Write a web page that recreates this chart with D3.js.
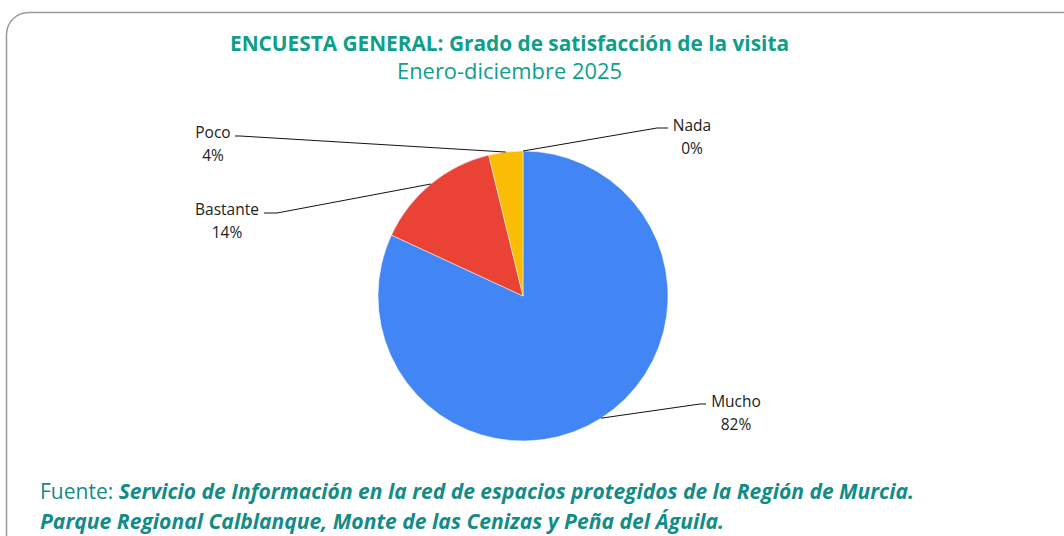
<!DOCTYPE html>
<html>
<head>
<meta charset="utf-8">
<script src="https://cdn.jsdelivr.net/npm/d3@7"></script>
<style>
  body { margin: 0; background: #fff; }
  svg { display: block; }
</style>
</head>
<body>
<svg width="1064" height="536"></svg>
<script>
// data
const categories = ["Mucho", "Bastante", "Poco", "Nada"];
const values = [81.9, 14.3, 3.8, 0];
const pctLabels = ["82%", "14%", "4%", "0%"];
const colors = ["#4285F4", "#EA4335", "#FBBC04", "#34A853"];

// where each label sits (layout only)
const labelPos = {
  Mucho:    { x: 736, y: 407, elbow: [700, 404], stub: 706 },
  Bastante: { x: 227, y: 215, elbow: [277, 213], stub: 264 },
  Poco:     { x: 213, y: 138, elbow: [240, 136], stub: 235 },
  Nada:     { x: 692, y: 131, elbow: [657, 128], stub: 668 }
};

const svg = d3.select("svg");
const teal = "#0E9E8A";
const tealDark = "#138C86";
const font = "'Open Sans', 'Noto Sans', sans-serif";

// card border
svg.append("rect")
  .attr("x", 6.5).attr("y", 12.5)
  .attr("width", 1080).attr("height", 580)
  .attr("rx", 22).attr("ry", 22)
  .attr("fill", "none")
  .attr("stroke", "#9a9a9a")
  .attr("stroke-width", 1.5);

// titles
svg.append("text")
  .attr("x", 509.5).attr("y", 51)
  .attr("text-anchor", "middle")
  .attr("font-family", font)
  .attr("font-weight", "bold")
  .attr("font-size", 21)
  .attr("fill", teal)
  .attr("textLength", 559)
  .attr("lengthAdjust", "spacingAndGlyphs")
  .text("ENCUESTA GENERAL: Grado de satisfacción de la visita");

svg.append("text")
  .attr("x", 509.5).attr("y", 79)
  .attr("text-anchor", "middle")
  .attr("font-family", font)
  .attr("font-size", 21)
  .attr("fill", teal)
  .attr("textLength", 225)
  .attr("lengthAdjust", "spacingAndGlyphs")
  .text("Enero-diciembre 2025");

// pie
const cx = 523, cy = 296, radius = 145;
const pieData = categories.map((c, i) => ({ name: c, value: values[i], pct: pctLabels[i], color: colors[i] }));

const pie = d3.pie().sort(null).value(d => d.value);
const arc = d3.arc().innerRadius(0).outerRadius(radius);
const arcs = pie(pieData);

const g = svg.append("g").attr("transform", `translate(${cx},${cy})`);

g.selectAll("path")
  .data(arcs.filter(d => d.data.value > 0))
  .join("path")
  .attr("d", arc)
  .attr("fill", d => d.data.color)
  .attr("stroke", "#fff")
  .attr("stroke-width", 0.5);

// leader lines
const edgePoint = d => {
  const a = (d.startAngle + d.endAngle) / 2;
  return [cx + radius * Math.sin(a), cy - radius * Math.cos(a)];
};

svg.append("g")
  .attr("fill", "none")
  .attr("stroke", "#111")
  .attr("stroke-width", 1)
  .selectAll("polyline")
  .data(arcs)
  .join("polyline")
  .attr("points", d => {
    const p = labelPos[d.data.name];
    return [edgePoint(d), p.elbow, [p.stub, p.elbow[1]]].map(q => q.join(",")).join(" ");
  });

// labels
const labels = svg.append("g")
  .attr("font-family", font)
  .attr("font-size", 15.5)
  .attr("fill", "#222")
  .attr("text-anchor", "middle")
  .selectAll("text")
  .data(arcs)
  .join("text")
  .attr("x", d => labelPos[d.data.name].x)
  .attr("y", d => labelPos[d.data.name].y);

labels.append("tspan").text(d => d.data.name);
labels.append("tspan")
  .attr("x", d => labelPos[d.data.name].x)
  .attr("dy", 23)
  .text(d => d.data.pct);

// source
const src = svg.append("g")
  .attr("font-family", font)
  .attr("font-size", 21)
  .attr("fill", tealDark);

const l1 = src.append("text").attr("x", 40).attr("y", 499)
  .attr("textLength", 874).attr("lengthAdjust", "spacingAndGlyphs");
l1.append("tspan").text("Fuente: ");
l1.append("tspan").attr("font-weight", "bold").attr("font-style", "italic")
  .text("Servicio de Información en la red de espacios protegidos de la Región de Murcia.");

src.append("text").attr("x", 40).attr("y", 529)
  .attr("font-weight", "bold").attr("font-style", "italic")
  .attr("textLength", 684).attr("lengthAdjust", "spacingAndGlyphs")
  .text("Parque Regional Calblanque, Monte de las Cenizas y Peña del Águila.");
</script>
</body>
</html>
